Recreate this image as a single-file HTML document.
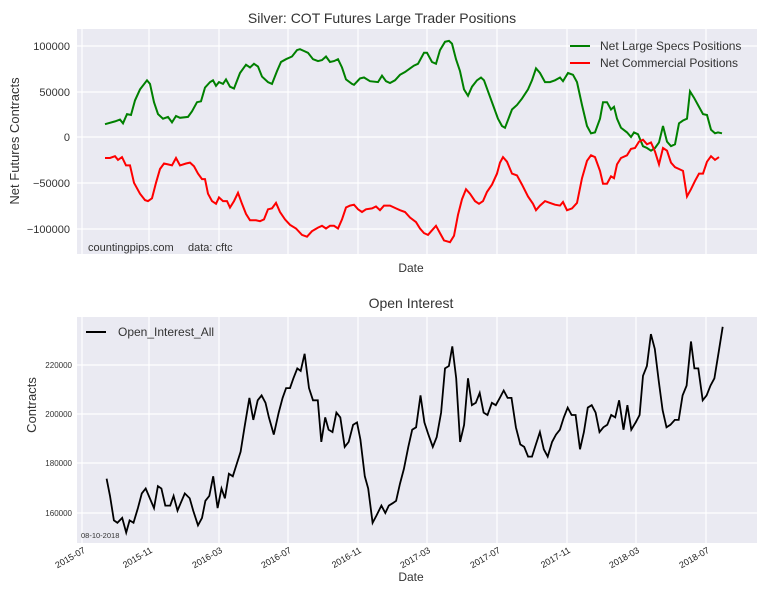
<!DOCTYPE html>
<html><head><meta charset="utf-8"><style>
body{margin:0;background:#fff;}
svg text{font-family:"Liberation Sans",sans-serif;fill:#333;}
</style></head><body>
<svg id="s" width="765" height="595" xmlns="http://www.w3.org/2000/svg">
<rect x="77" y="29" width="680" height="225" fill="#EAEAF2"/>
<rect x="77" y="317" width="680" height="226" fill="#EAEAF2"/>
<g stroke="#fff" stroke-width="1.2">
<line x1="77" x2="757" y1="46" y2="46"/><line x1="77" x2="757" y1="92" y2="92"/><line x1="77" x2="757" y1="137" y2="137"/><line x1="77" x2="757" y1="183" y2="183"/><line x1="77" x2="757" y1="229" y2="229"/>
<line x1="77" x2="757" y1="365" y2="365"/><line x1="77" x2="757" y1="414" y2="414"/><line x1="77" x2="757" y1="463" y2="463"/><line x1="77" x2="757" y1="513" y2="513"/>
</g>
<g id="vg" stroke="#fff" stroke-width="1.2"></g>
<text x="382" y="23" font-size="14" text-anchor="middle">Silver: COT Futures Large Trader Positions</text>
<g font-size="11" text-anchor="end">
<text x="70" y="50">100000</text><text x="70" y="96">50000</text><text x="70" y="141">0</text><text x="70" y="187">−50000</text><text x="70" y="233">−100000</text>
</g>
<text transform="translate(19,141) rotate(-90)" font-size="13" text-anchor="middle">Net Futures Contracts</text>
<text x="411" y="272" font-size="12" text-anchor="middle">Date</text>
<text x="88" y="251" font-size="11">countingpips.com</text><text x="188" y="251" font-size="11">data: cftc</text>
<line x1="570" x2="590" y1="46" y2="46" stroke="green" stroke-width="2"/>
<text x="600" y="50" font-size="12">Net Large Specs Positions</text>
<line x1="570" x2="590" y1="63" y2="63" stroke="red" stroke-width="2"/>
<text x="600" y="67" font-size="12">Net Commercial Positions</text>
<polyline id="g" fill="none" stroke="green" stroke-width="2"/>
<polyline id="r" fill="none" stroke="red" stroke-width="2"/>

<text x="411" y="308" font-size="14" text-anchor="middle">Open Interest</text>
<g font-size="8" text-anchor="end">
<text x="72" y="368">220000</text><text x="72" y="417">200000</text><text x="72" y="466">180000</text><text x="72" y="516">160000</text>
</g>
<text transform="translate(36,405) rotate(-90)" font-size="13" text-anchor="middle">Contracts</text>
<text x="411" y="581" font-size="12" text-anchor="middle">Date</text>
<text x="81" y="538" font-size="7.5">08-10-2018</text>
<line x1="86" x2="106" y1="332" y2="332" stroke="#000" stroke-width="2"/>
<text x="118" y="336" font-size="12">Open_Interest_All</text>
<g id="xt" font-size="9" text-anchor="end"></g>
<polyline id="o" fill="none" stroke="#000" stroke-width="1.8"/>
</svg>
<script>
var G=[105,14,115,17,120,19,123,15,127,25,131,24,135,40,140,52,147,62,150,58,154,38,158,25,163,20,168,22,172,16,176,23,180,21,188,22,192,28,197,38,201,39,205,54,210,60,213,62,216,56,219,60,223,58,226,63,230,55,234,53,240,70,246,79,250,76,254,80,258,77,262,66,268,60,272,58,277,72,281,82,286,85,292,88,297,95,300,96,304,94,308,92,313,85,318,83,322,84,326,88,330,82,334,83,338,85,342,76,346,63,352,58,354,57,360,64,364,65,370,61,378,60,382,67,386,61,390,59,395,62,400,68,405,71,410,75,414,78,418,80,424,92,427,92,432,82,436,80,440,95,445,104,449,105,452,102,456,85,460,72,464,52,468,45,472,55,477,62,481,65,484,62,488,50,493,35,498,20,502,12,505,10,512,30,517,35,522,42,528,52,532,62,536,75,540,70,545,60,550,60,555,62,560,65,563,61,568,70,573,68,577,60,582,35,587,12,591,4,595,5,600,20,603,38,607,38,611,30,614,33,617,20,621,10,627,5,631,0,634,5,638,3,643,-10,647,-12,651,-15,655,-12,659,-6,663,12,667,-5,671,-10,675,-8,679,15,683,18,687,20,690,50,694,43,698,35,703,25,707,24,711,8,715,4,718,5,722,4];
var R=[105,-23,110,-23,115,-21,118,-25,122,-22,126,-31,130,-31,134,-50,140,-62,145,-69,148,-70,152,-67,156,-50,160,-35,164,-29,168,-30,172,-31,176,-23,180,-31,186,-29,190,-28,194,-32,198,-40,202,-46,205,-46,208,-62,212,-70,216,-73,219,-66,223,-70,227,-70,230,-77,234,-70,238,-61,242,-73,246,-84,250,-91,256,-91,260,-92,264,-90,268,-79,272,-78,276,-72,280,-82,285,-90,290,-96,296,-100,302,-107,307,-109,312,-103,318,-99,322,-97,326,-100,330,-97,334,-97,338,-100,342,-90,346,-77,350,-75,354,-74,358,-79,362,-82,366,-79,372,-78,376,-76,380,-80,384,-75,390,-75,396,-78,400,-80,405,-82,410,-88,416,-93,420,-100,424,-105,428,-107,432,-102,436,-97,440,-105,444,-113,450,-115,454,-108,458,-85,462,-68,466,-57,470,-62,475,-70,479,-73,483,-70,487,-60,492,-52,497,-40,500,-28,503,-22,507,-27,512,-40,517,-42,522,-52,528,-65,533,-73,536,-80,540,-75,545,-70,550,-72,555,-74,560,-75,563,-71,567,-80,572,-78,577,-72,582,-45,587,-26,591,-20,595,-22,600,-37,603,-51,607,-51,611,-43,614,-45,617,-30,621,-23,627,-20,631,-13,635,-12,639,-5,643,-3,647,-8,651,-6,655,-16,659,-30,663,-12,667,-15,671,-28,675,-33,679,-35,683,-37,687,-65,691,-57,695,-48,699,-40,703,-40,707,-27,711,-21,715,-25,719,-22];
var O=[218,174,225,167,233,157,240,156,250,158,258,152,265,157,273,156,282,162,290,168,298,170,315,162,323,171,330,170,338,163,348,163,355,167,363,161,378,168,388,166,395,161,405,155,413,158,420,165,428,167,436,175,445,162,453,170,460,166,468,176,476,175,484,180,492,185,500,195,510,207,518,198,527,206,535,208,543,205,550,199,560,192,570,201,578,207,585,211,593,211,600,215,608,219,615,218,623,225,632,211,640,206,650,206,657,189,665,199,672,194,680,193,688,201,696,199,705,187,713,189,722,196,730,197,737,190,746,175,753,170,762,156,770,159,780,163,788,160,795,163,803,164,810,165,818,172,826,178,835,187,843,194,851,195,860,208,868,197,876,192,885,187,893,191,902,201,910,219,918,220,925,228,933,215,941,189,949,196,957,215,965,204,973,205,981,209,989,201,997,200,1006,205,1014,204,1022,207,1030,210,1038,207,1046,207,1055,195,1064,188,1072,187,1080,183,1088,183,1096,188,1104,193,1112,186,1120,183,1129,189,1137,192,1145,194,1153,199,1161,203,1169,200,1177,200,1186,186,1194,193,1202,203,1210,204,1218,201,1226,193,1234,195,1242,196,1250,200,1258,199,1266,206,1275,194,1283,204,1291,194,1300,197,1308,200,1315,216,1323,220,1331,233,1339,227,1347,214,1355,202,1363,195,1371,196,1380,198,1388,198,1396,208,1404,212,1413,230,1420,219,1428,219,1437,206,1445,208,1453,212,1461,215,1470,226,1478,236];
function pts(a,fx,fy){var s=[];for(var i=0;i<a.length;i+=2)s.push(fx(a[i]).toFixed(1)+","+fy(a[i+1]).toFixed(1));return s.join(" ");}
document.getElementById("g").setAttribute("points",pts(G,x=>x,v=>137-v*0.915));
document.getElementById("r").setAttribute("points",pts(R,x=>x,v=>137-v*0.915));
document.getElementById("o").setAttribute("points",pts(O,x=>x/2.045,v=>513-(v-160)*2.45));
var xs=[82,149,219,288,358,427,497,567,636,706],lb=["2015-07","2015-11","2016-03","2016-07","2016-11","2017-03","2017-07","2017-11","2018-03","2018-07"];
var vg=document.getElementById("vg"),xt=document.getElementById("xt"),h="";
xs.forEach(function(x,i){h+='<line x1="'+x+'" x2="'+x+'" y1="29" y2="254"/><line x1="'+x+'" x2="'+x+'" y1="317" y2="543"/>';});
vg.innerHTML=h;h="";
xs.forEach(function(x,i){h+='<text style="fill:#222" transform="translate('+(x+4)+',552) rotate(-30)">'+lb[i]+'</text>';});
xt.innerHTML=h;
</script>
</body></html>
